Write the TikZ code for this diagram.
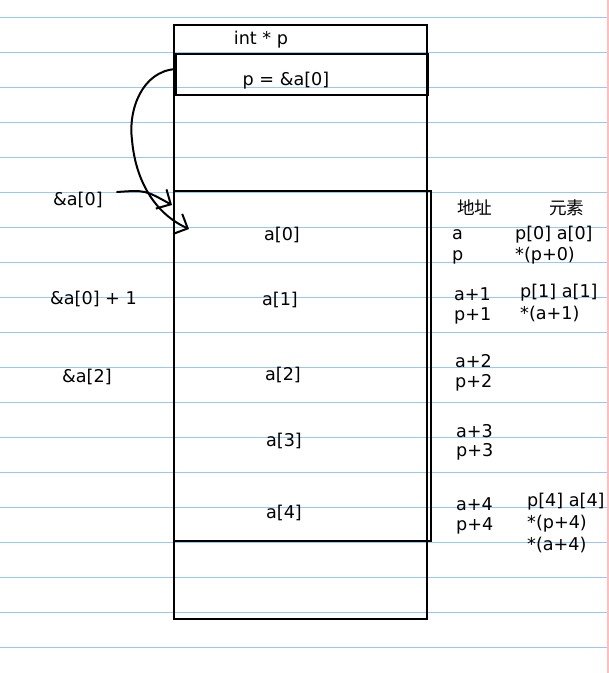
\documentclass[tikz,border=0pt]{standalone}
\usepackage{fontspec}
\setmainfont{DejaVu Sans}
\newfontfamily\cjk{Noto Sans CJK SC}
\usetikzlibrary{arrows.meta}
\definecolor{ruleblue}{RGB}{150,200,250}
\definecolor{marginred}{RGB}{255,190,190}
\begin{document}
\begin{tikzpicture}[x=1pt,y=-1pt,
  box/.style={draw=black, line width=2.2pt, inner sep=0pt, outer sep=0pt},
  txt/.style={font=\fontsize{17.6}{20}\selectfont, inner sep=0pt, text=black},
  ruled/.style={draw=ruleblue, line width=1.7pt},
  hand/.style={line width=2pt, line cap=round, -{Straight Barb[length=11pt,width=22pt,line width=2pt]}}]
\useasboundingbox (0,0) rectangle (609,673);
\fill[white] (0,0) rectangle (609,673);
% notebook lines
\foreach \k in {0,...,18} \draw[ruled] (0,{17.5+35*\k}) -- (609,{17.5+35*\k});
\draw[draw=marginred, line width=1.7pt] (608,0) -- (608,673);
% boxes
\node[box, minimum width=253pt, minimum height=594pt] (mem) at (300.5,322) {};
\node[box, minimum width=252pt, minimum height=41pt] (pbox) at (302,74.5) {};
\node[box, minimum width=257pt, minimum height=350pt] (arr) at (302.5,366) {};
% texts in memory
\node[txt, anchor=base] (tint) at (261,44.5) {int * p};
\node[txt, anchor=base] (tp) at (286,85) {p = \&a[0]};
\node[txt, anchor=base] (e0) at (282,240) {a[0]};
\node[txt, anchor=base] (e1) at (280,305) {a[1]};
\node[txt, anchor=base] (e2) at (283,380) {a[2]};
\node[txt, anchor=base] (e3) at (284,446) {a[3]};
\node[txt, anchor=base] (e4) at (284,518) {a[4]};
% left labels
\node[txt, anchor=base west] (l0) at (53,205) {\&a[0]};
\node[txt, anchor=base west] (l1) at (50,304) {\&a[0] + 1};
\node[txt, anchor=base west] (l2) at (62,382) {\&a[2]};
% headers
\node[txt, anchor=base west, font=\cjk\fontsize{17.6}{20}\selectfont] (h1) at (457,214.5) {地址};
\node[txt, anchor=base west, font=\cjk\fontsize{17.6}{20}\selectfont] (h2) at (549,214.5) {元素};
% address column
\node[txt, anchor=base west] (ad0a) at (452,239) {a};
\node[txt, anchor=base west] (ad0p) at (452,260) {p};
\node[txt, anchor=base west] (ad1a) at (454,300) {a+1};
\node[txt, anchor=base west] (ad1p) at (454,320.5) {p+1};
\node[txt, anchor=base west] (ad2a) at (455,367.5) {a+2};
\node[txt, anchor=base west] (ad2p) at (455,387.5) {p+2};
\node[txt, anchor=base west] (ad3a) at (456,437) {a+3};
\node[txt, anchor=base west] (ad3p) at (456,456.5) {p+3};
\node[txt, anchor=base west] (ad4a) at (456,510) {a+4};
\node[txt, anchor=base west] (ad4p) at (456,530) {p+4};
% element column
\node[txt, anchor=base west] (el0a) at (515,239) {p[0] a[0]};
\node[txt, anchor=base west] (el0b) at (515,260) {*(p+0)};
\node[txt, anchor=base west] (el1a) at (520,297.5) {p[1] a[1]};
\node[txt, anchor=base west] (el1b) at (520,319.5) {*(a+1)};
\node[txt, anchor=base west] (el4a) at (527,506) {p[4] a[4]};
\node[txt, anchor=base west] (el4b) at (527,528) {*(p+4)};
\node[txt, anchor=base west] (el4c) at (527,550) {*(a+4)};
% arrows
\coordinate (tip1) at (189,229);
\coordinate (s2) at (117,192);
\coordinate (tip2) at (172,205);
\draw[hand] ([yshift=5.5pt]pbox.west) .. controls (142,71) and (128,110) .. (132,140)
   .. controls (136,185) and (158,215) .. (tip1);
\draw[hand] (s2) .. controls (145,190) .. (tip2);
\end{tikzpicture}
\end{document}
